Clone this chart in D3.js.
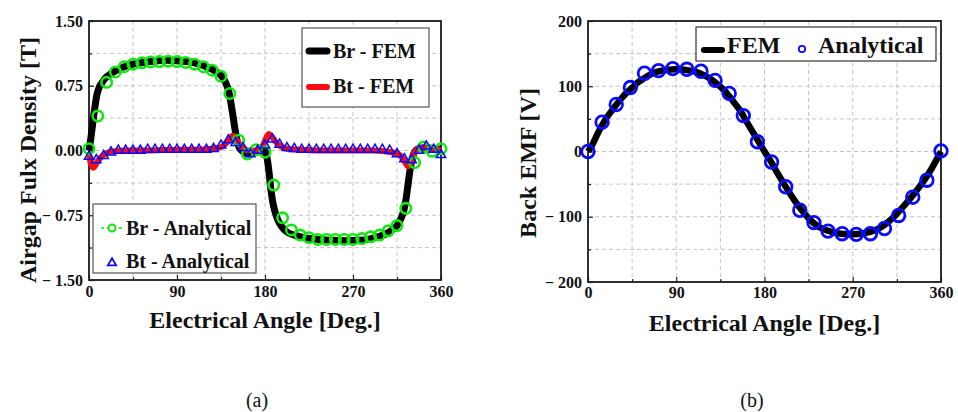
<!DOCTYPE html>
<html>
<head>
<meta charset="utf-8">
<script src="https://cdn.jsdelivr.net/npm/d3@7"></script>
<style>
  body { margin: 0; background: #fff; }
  svg { display: block; }
  text { font-family: "Liberation Serif", "Times New Roman", serif; font-weight: bold; fill: #111; }
  text.caption { font-weight: normal; }
</style>
</head>
<body>
<svg id="chart"></svg>
<script>
// tick values / labels
var angleTicks = [0, 90, 180, 270, 360];
var angleMinor = [45, 135, 225, 315];
var fluxTicks = [-1.5, -0.75, 0, 0.75, 1.5];
var fluxTickLabels = ['\u2212 1.50', '\u2212 0.75', '0.00', '0.75', '1.50'];
var fluxMinor = [-1.125, -0.375, 0.375, 1.125];
var emfTicks = [-200, -100, 0, 100, 200];
var emfTickLabels = ['\u2212 200', '\u2212 100', '0', '100', '200'];
var emfMinor = [-150, -50, 50, 150];

// (a) Br - FEM  [angle, T]
var brFem = [[0,0.0],[2,0.15],[4,0.33],[6,0.5],[8,0.64],[10,0.72],[13,0.78],[16,0.83],[20,0.87],[25,0.91],
  [30,0.94],[36,0.97],[45,1.0],[55,1.02],[65,1.035],[80,1.045],[90,1.04],[100,1.03],[110,1.01],[118,0.98],
  [126,0.94],[132,0.9],[137,0.84],[140,0.78],[143,0.68],[145,0.56],[147,0.42],[149,0.27],[151,0.14],[153,0.05],
  [156,0.0],[160,-0.03],[165,-0.04],[170,-0.02],[175,-0.01],[180,-0.01],[182,-0.08],[184,-0.24],[186,-0.45],[188,-0.6],
  [190,-0.7],[193,-0.8],[197,-0.88],[202,-0.94],[210,-0.98],[220,-1.01],[235,-1.03],[250,-1.04],[265,-1.045],[275,-1.04],
  [285,-1.03],[295,-1.0],[303,-0.97],[310,-0.92],[315,-0.87],[319,-0.79],[322,-0.69],[324,-0.58],[326,-0.42],[328,-0.25],
  [330,-0.12],[332,-0.04],[335,0.01],[340,0.03],[348,0.03],[355,0.02],[360,0.01]];

// (a) Bt - FEM  [angle, T]
var btFem = [[0,-0.05],[2,-0.15],[4,-0.2],[6,-0.18],[9,-0.12],[13,-0.07],[18,-0.03],[25,-0.01],[40,0.0],[60,0.0],
  [90,0.01],[110,0.01],[125,0.02],[132,0.03],[138,0.06],[143,0.12],[147,0.17],[150,0.14],[153,0.08],[157,0.04],
  [162,0.0],[168,0.0],[174,0.02],[178,0.06],[181,0.14],[184,0.19],[187,0.16],[191,0.1],[196,0.05],[202,0.02],
  [215,0.01],[250,0.0],[290,0.0],[310,-0.02],[316,-0.04],[320,-0.08],[323,-0.13],[326,-0.18],[328,-0.17],[330,-0.1],
  [333,-0.02],[337,0.02],[345,0.03],[355,0.02],[360,0.0]];

// (a) Br - Analytical, one value every 9 deg
var brAnaStep = 9;
var brAna = [0.02, 0.40, 0.79, 0.91, 0.97, 1.0, 1.015, 1.025, 1.03, 1.035, 1.03, 1.02, 1.0, 0.97, 0.93, 0.86,
  0.66, 0.12, -0.04, 0.01, -0.02, -0.40, -0.78, -0.92, -0.98, -1.01, -1.03, -1.03, -1.03, -1.03, -1.03,
  -1.02, -1.0, -0.98, -0.93, -0.87, -0.67, -0.14, 0.04, -0.01, 0.02];

// (a) Bt - Analytical, one value every 7.5 deg
var btAnaStep = 7.5;
var btAna = [-0.07, -0.11, -0.06, -0.02, 0.0, 0.0, 0.0, 0.0, 0.01, 0.01, 0.01, 0.01, 0.01, 0.01, 0.01, 0.01,
  0.01, 0.02, 0.06, 0.12, 0.09, 0.03, -0.04, 0.0, 0.06, 0.13, 0.07, 0.03, 0.02, 0.01, 0.01, 0.01, 0.01,
  0.01, 0.01, 0.01, 0.01, 0.01, 0.01, 0.01, 0.01, 0.0, -0.04, -0.1, -0.11, 0.0, 0.05, 0.01, -0.05];

// (b) Back EMF - FEM [angle, V]
var emfFem = [[0,0],[5,12],[10,28],[15,42],[20,54],[25,64],[30,74],[35,83],[40,91],[45,98],[50,105],[55,110],
  [60,115],[65,119],[70,122],[80,125],[90,126],[100,125],[110,122],[118,117],[125,111],[132,103],[140,92],
  [148,77],[155,63],[162,45],[170,25],[176,10],[180,0],[186,-14],[192,-30],[198,-45],[205,-62],[212,-78],
  [219,-92],[226,-104],[233,-113],[240,-119],[248,-123],[258,-126],[270,-127],[282,-125],[292,-121],[300,-115],
  [307,-107],[314,-97],[320,-87],[327,-75],[334,-62],[340,-50],[346,-37],[352,-22],[356,-11],[360,0]];

// (b) Back EMF - Analytical, one value every 14.4 deg
var emfAnaStep = 14.4;
var emfAna = [0, 45, 72, 98, 120, 124, 127, 126, 123, 109, 89, 55, 15, -16, -54, -90, -109, -122, -126,
  -127, -126, -118, -98, -70, -44, 1];

var svg = d3.select('#chart').attr('width', 958).attr('height', 412);

function panel(opt) {
  var x = d3.scaleLinear().domain([0, 360]).range([opt.left, opt.right]);
  var y = d3.scaleLinear().domain(opt.yDomain).range([opt.bottom, opt.top]);
  var g = svg.append('g');

  // dashed grid
  var grid = g.append('g').attr('stroke', '#c4c4c4').attr('stroke-width', 1).attr('stroke-dasharray', '4,3');
  grid.selectAll('line.gx').data([45, 90, 135, 180, 225, 270, 315]).enter().append('line')
    .attr('x1', x).attr('x2', x).attr('y1', opt.top).attr('y2', opt.bottom);
  grid.selectAll('line.gy').data(opt.yGrid).enter().append('line')
    .attr('y1', y).attr('y2', y).attr('x1', opt.left).attr('x2', opt.right);

  // axes (inward ticks)
  g.append('g').attr('transform', 'translate(0,' + opt.bottom + ')')
    .call(d3.axisBottom(x).tickValues(angleTicks).tickSizeInner(-5).tickSizeOuter(0).tickPadding(opt.xPad));
  g.append('g').attr('transform', 'translate(0,' + opt.bottom + ')')
    .call(d3.axisBottom(x).tickValues(angleMinor).tickSizeInner(-3).tickSizeOuter(0).tickFormat(''));
  g.append('g').attr('transform', 'translate(' + opt.left + ',0)')
    .call(d3.axisLeft(y).tickValues(opt.yTicks).tickSizeInner(-5).tickSizeOuter(0).tickPadding(6)
      .tickFormat(function(d, i) { return opt.yLabels[i]; }));
  g.append('g').attr('transform', 'translate(' + opt.left + ',0)')
    .call(d3.axisLeft(y).tickValues(opt.yMinor).tickSizeInner(-3).tickSizeOuter(0).tickFormat(''));
  g.selectAll('.domain').remove();
  g.selectAll('.tick line').attr('stroke', '#222').attr('stroke-width', 1.2);
  g.selectAll('.tick text').attr('font-size', 16);

  g.append('rect').attr('x', opt.left).attr('y', opt.top)
    .attr('width', opt.right - opt.left).attr('height', opt.bottom - opt.top)
    .attr('fill', 'none').attr('stroke', '#1a1a1a').attr('stroke-width', 1.8);

  // titles
  g.append('text').attr('x', (opt.left + opt.right) / 2).attr('y', opt.xTitleY)
    .attr('text-anchor', 'middle').attr('font-size', 24).text('Electrical Angle [Deg.]');
  g.append('text').attr('transform', 'translate(' + opt.yTitleX + ',' + opt.yTitleY + ')rotate(-90)')
    .attr('text-anchor', 'middle').attr('font-size', 24).text(opt.yTitle);
  g.append('text').attr('class', 'caption').attr('x', opt.capX).attr('y', 407).attr('text-anchor', 'middle')
    .attr('font-size', 20).text(opt.caption);

  return { g: g, x: x, y: y };
}

// ---------- (a) airgap flux density ----------
var a = panel({
  left: 89, right: 441, top: 21, bottom: 280, yDomain: [-1.5, 1.5],
  yTicks: fluxTicks, yLabels: fluxTickLabels, yMinor: fluxMinor,
  yGrid: [-1.125, -0.75, -0.375, 0, 0.375, 0.75, 1.125], xPad: 6,
  xTitleY: 328, yTitle: 'Airgap Fulx Density [T]', yTitleX: 36, yTitleY: 160,
  caption: '(a)', capX: 257
});

var lineA = d3.line().x(function(d) { return a.x(d[0]); }).y(function(d) { return a.y(d[1]); }).curve(d3.curveMonotoneX);
var plotA = a.g.append('g');
plotA.append('path').datum(brFem).attr('d', lineA).attr('fill', 'none')
  .attr('stroke', '#000').attr('stroke-width', 7).attr('stroke-linejoin', 'round');
plotA.append('path').datum(btFem).attr('d', lineA).attr('fill', 'none')
  .attr('stroke', '#ff0a0a').attr('stroke-width', 6).attr('stroke-linejoin', 'round');

plotA.selectAll('circle.br').data(brAna).enter().append('circle')
  .attr('cx', function(d, i) { return a.x(i * brAnaStep); })
  .attr('cy', function(d) { return a.y(d); })
  .attr('r', 5.2).attr('fill', 'none').attr('stroke', '#10e810').attr('stroke-width', 2.6);

var tri = d3.symbol().type(d3.symbolTriangle).size(38);
plotA.selectAll('path.bt').data(btAna).enter().append('path')
  .attr('d', tri)
  .attr('transform', function(d, i) { return 'translate(' + a.x(i * btAnaStep) + ',' + a.y(d) + ')'; })
  .attr('fill', 'none').attr('stroke', '#0a0aff').attr('stroke-width', 1.5);

// legends (a)
var legA1 = a.g.append('g');
legA1.append('rect').attr('x', 302).attr('y', 28).attr('width', 127).attr('height', 79)
  .attr('fill', '#fff').attr('stroke', '#555').attr('stroke-width', 1.2);
legA1.append('line').attr('x1', 309).attr('x2', 327).attr('y1', 51).attr('y2', 51)
  .attr('stroke', '#000').attr('stroke-width', 7).attr('stroke-linecap', 'round');
legA1.append('text').attr('x', 333).attr('y', 58).attr('font-size', 20).text('Br - FEM');
legA1.append('line').attr('x1', 309).attr('x2', 327).attr('y1', 87).attr('y2', 87)
  .attr('stroke', '#ff0a0a').attr('stroke-width', 6).attr('stroke-linecap', 'round');
legA1.append('text').attr('x', 333).attr('y', 93).attr('font-size', 20).text('Bt - FEM');

var legA2 = a.g.append('g');
legA2.append('rect').attr('x', 93).attr('y', 204).attr('width', 163).attr('height', 69)
  .attr('fill', '#fff').attr('stroke', '#555').attr('stroke-width', 1.2);
legA2.append('line').attr('x1', 101).attr('x2', 123).attr('y1', 228).attr('y2', 228)
  .attr('stroke', '#10e810').attr('stroke-width', 1.5).attr('stroke-dasharray', '3,3');
legA2.append('circle').attr('cx', 112).attr('cy', 228).attr('r', 3.5)
  .attr('fill', '#fff').attr('stroke', '#10e810').attr('stroke-width', 2);
legA2.append('text').attr('x', 126).attr('y', 235).attr('font-size', 20).text('Br - Analytical');
legA2.append('path').attr('d', d3.symbol().type(d3.symbolTriangle).size(30))
  .attr('transform', 'translate(112,263)')
  .attr('fill', 'none').attr('stroke', '#0a0aff').attr('stroke-width', 1.8);
legA2.append('text').attr('x', 126).attr('y', 268).attr('font-size', 20).text('Bt - Analytical');

// ---------- (b) back EMF ----------
var b = panel({
  left: 588, right: 941, top: 21, bottom: 282, yDomain: [-200, 200],
  yTicks: emfTicks, yLabels: emfTickLabels, yMinor: emfMinor,
  yGrid: [-150, -100, -50, 0, 50, 100, 150], xPad: 5,
  xTitleY: 331, yTitle: 'Back EMF [V]', yTitleX: 536, yTitleY: 163,
  caption: '(b)', capX: 752
});

var lineB = d3.line().x(function(d) { return b.x(d[0]); }).y(function(d) { return b.y(d[1]); }).curve(d3.curveMonotoneX);
b.g.append('path').datum(emfFem).attr('d', lineB).attr('fill', 'none')
  .attr('stroke', '#000').attr('stroke-width', 6.5).attr('stroke-linejoin', 'round');
b.g.selectAll('circle.emf').data(emfAna).enter().append('circle')
  .attr('cx', function(d, i) { return b.x(i * emfAnaStep); })
  .attr('cy', function(d) { return b.y(d); })
  .attr('r', 6.3).attr('fill', 'none').attr('stroke', '#0a0aff').attr('stroke-width', 2.8);

var legB = b.g.append('g');
legB.append('rect').attr('x', 696).attr('y', 27).attr('width', 240).attr('height', 34)
  .attr('fill', '#fff').attr('stroke', '#333').attr('stroke-width', 1.2);
legB.append('line').attr('x1', 704).attr('x2', 722).attr('y1', 50).attr('y2', 50)
  .attr('stroke', '#000').attr('stroke-width', 6).attr('stroke-linecap', 'round');
legB.append('text').attr('x', 727).attr('y', 53).attr('font-size', 24).text('FEM');
legB.append('circle').attr('cx', 802).attr('cy', 49).attr('r', 3.2)
  .attr('fill', 'none').attr('stroke', '#0a0aff').attr('stroke-width', 1.8);
legB.append('text').attr('x', 818).attr('y', 53).attr('font-size', 24).text('Analytical');
</script>
</body>
</html>
